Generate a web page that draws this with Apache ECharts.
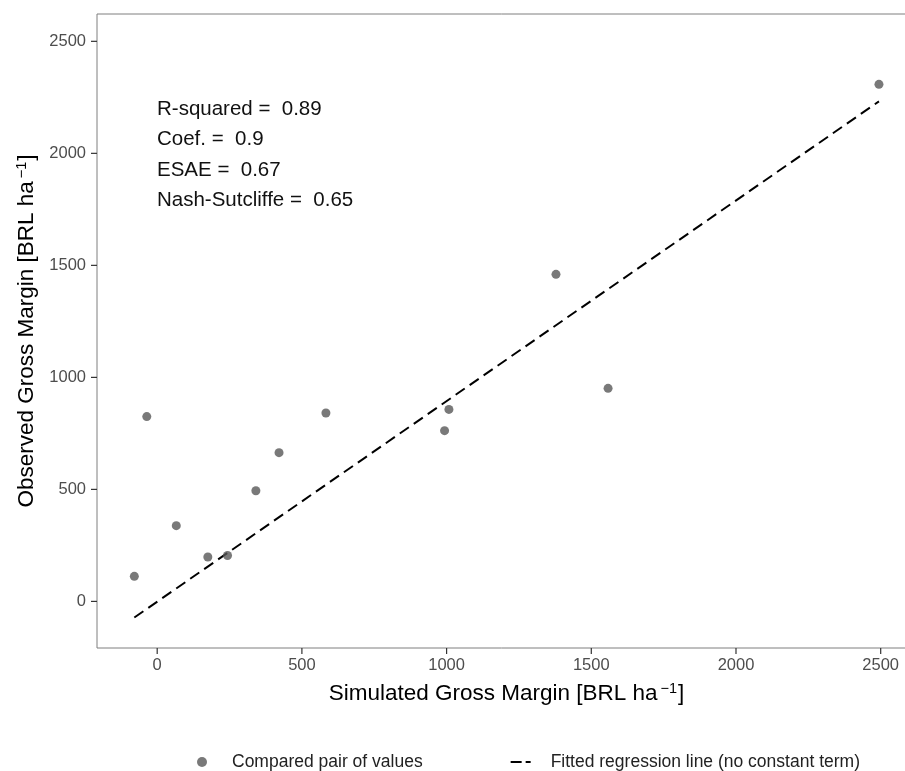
<!DOCTYPE html>
<html>
<head>
<meta charset="utf-8">
<script src="https://cdn.jsdelivr.net/npm/echarts@6/dist/echarts.min.js"></script>
<style>html,body{margin:0;padding:0;background:#fff}#c{width:905px;height:771px}</style>
</head>
<body>
<div id="c"></div>
<script>
var simulated = [-79, -36, 66, 175, 243, 341, 421, 583, 993, 1008, 1378, 1558, 2494];
var observed  = [112, 825, 338, 198, 205, 494, 664, 841, 762, 857, 1460, 951, 2308];
var lineX = [-79, 2494];
var lineY = [-72, 2232];
var tickValues = [0, 500, 1000, 1500, 2000, 2500];
var statsLines = ['R-squared =  0.89', 'Coef. =  0.9', 'ESAE =  0.67', 'Nash-Sutcliffe =  0.65'];

var AXIS_MIN = -208, AXIS_MAX = 2622;
var points = simulated.map(function (x, i) { return [x, observed[i]]; });
var linePts = lineX.map(function (x, i) { return [x, lineY[i]]; });
var font = 'Liberation Sans, Arial, sans-serif';

function axisCommon(nameText) {
  return {
    type: 'value', min: AXIS_MIN, max: AXIS_MAX,
    name: '{a|' + nameText + '}{s|\u22121}{a|]}',
    nameLocation: 'middle',
    nameTextStyle: {
      rich: {
        a: { fontSize: 22.5, color: '#000', fontFamily: font, lineHeight: 28, verticalAlign: 'bottom' },
        s: { fontSize: 14.5, color: '#000', fontFamily: font, verticalAlign: 'bottom', lineHeight: 28, padding: [0, 1, 9, 3] }
      }
    },
    splitLine: { show: false },
    axisLine: { show: false, onZero: false },
    axisTick: { show: false },
    axisLabel: {
      customValues: tickValues, color: '#4d4d4d', fontSize: 16.5, fontFamily: font,
      formatter: function (v) { return String(v); }
    }
  };
}

var xAxis = axisCommon('Simulated Gross Margin [BRL ha');
xAxis.nameGap = 29;
xAxis.axisLabel.margin = 9;
xAxis.position = 'bottom';
var yAxis = axisCommon('Observed Gross Margin [BRL ha');
yAxis.nameGap = 52;
yAxis.axisLabel.margin = 11;
yAxis.position = 'left';

function tickSeries(isX) {
  var data = tickValues.map(function (v) { return isX ? [v, AXIS_MIN] : [AXIS_MIN, v]; });
  return {
    type: 'custom', data: data, clip: false, silent: true, z: 5,
    encode: { x: 0, y: 1 },
    renderItem: function (params, api) {
      var p = api.coord([api.value(0), api.value(1)]);
      var shape = isX ? { x1: p[0], y1: p[1], x2: p[0], y2: p[1] + 6 }
                      : { x1: p[0] - 6, y1: p[1], x2: p[0], y2: p[1] };
      return { type: 'line', shape: shape, style: { stroke: '#333', lineWidth: 1.2 } };
    }
  };
}

var chart = echarts.init(document.getElementById('c'));
chart.setOption({
  animation: false,
  backgroundColor: '#fff',
  grid: {
    left: 97, top: 14, width: 819, height: 634, show: true,
    borderColor: '#7f7f7f', borderWidth: 1,
    containLabel: false, outerBoundsMode: 'none'
  },
  xAxis: xAxis,
  yAxis: yAxis,
  legend: {
    top: 748, left: 192, itemGap: 88, itemWidth: 26, itemHeight: 10,
    textStyle: { fontSize: 17.5, color: '#222', fontFamily: font, padding: [0, 0, 0, 12] },
    data: [
      { name: 'Compared pair of values', icon: 'circle', itemStyle: { color: '#575757' } },
      { name: 'Fitted regression line (no constant term)',
        icon: 'path://M0,4H11V6H0Z M15,4H20V6H15Z M20,0V10', itemStyle: { color: '#000' } }
    ]
  },
  graphic: statsLines.map(function (t, i) {
    return { type: 'text', left: 157, top: 98.5 + i * 30.5, style: { text: t, fontSize: 20.5, fontFamily: font, fill: '#111' } };
  }),
  series: [
    {
      name: 'Compared pair of values', type: 'scatter', data: points,
      symbolSize: 9, itemStyle: { color: '#575757' }, z: 3
    },
    {
      name: 'Fitted regression line (no constant term)', type: 'line', data: linePts,
      symbol: 'none', itemStyle: { color: '#000' }, lineStyle: { color: '#000', width: 2, type: [11, 6] }, z: 2
    },
    tickSeries(true),
    tickSeries(false)
  ]
});
</script>
</body>
</html>
